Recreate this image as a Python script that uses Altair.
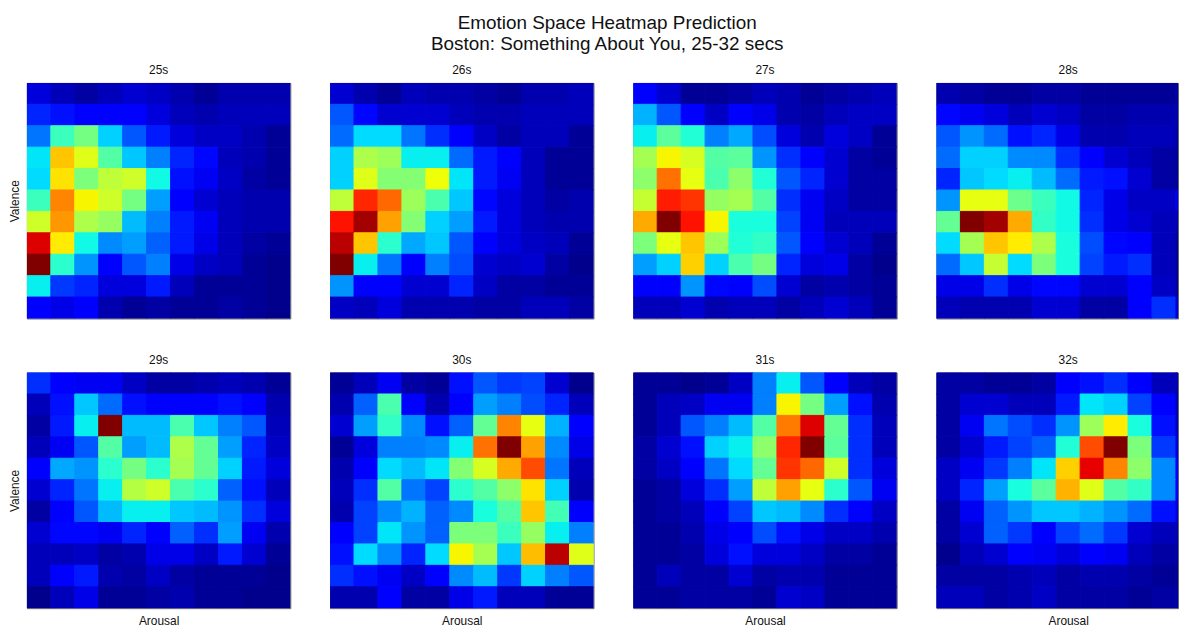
import altair as alt
import numpy as np
import pandas as pd

labels = ["25s", "26s", "27s", "28s", "29s", "30s", "31s", "32s"]

s25 = [
 [.08,.05,.03,.05,.07,.06,.04,.02,.04,.04,.04],
 [.16,.14,.12,.12,.12,.08,.05,.04,.05,.05,.05],
 [.24,.42,.49,.33,.21,.15,.08,.06,.06,.04,.02],
 [.35,.70,.62,.45,.32,.25,.16,.13,.05,.04,.02],
 [.34,.67,.50,.58,.60,.37,.14,.10,.06,.03,.02],
 [.42,.77,.65,.60,.49,.28,.12,.07,.05,.04,.04],
 [.60,.75,.56,.53,.31,.25,.15,.10,.05,.04,.04],
 [.92,.66,.37,.26,.28,.22,.15,.09,.05,.03,.02],
 [1.0,.40,.27,.12,.21,.25,.09,.06,.05,.02,.01],
 [.36,.18,.16,.08,.08,.15,.05,.02,.02,.02,.01],
 [.11,.09,.11,.04,.02,.03,.02,.02,.03,.02,.01],
]
s26 = [
 [.07,.04,.02,.05,.04,.04,.03,.02,.04,.04,.05],
 [.21,.13,.07,.07,.07,.05,.04,.04,.05,.05,.05],
 [.23,.34,.34,.24,.17,.12,.06,.03,.05,.05,.02],
 [.33,.56,.54,.36,.36,.23,.15,.11,.05,.02,.02],
 [.33,.62,.51,.51,.64,.35,.15,.10,.05,.02,.02],
 [.58,.87,.80,.54,.44,.32,.13,.08,.05,.03,.04],
 [.89,.97,.74,.51,.33,.28,.15,.08,.05,.04,.04],
 [.95,.70,.40,.29,.32,.21,.12,.08,.06,.05,.02],
 [1.0,.36,.24,.12,.25,.20,.07,.06,.07,.03,.01],
 [.27,.12,.12,.07,.07,.16,.06,.03,.03,.02,.02],
 [.06,.05,.08,.04,.04,.04,.03,.03,.05,.05,.03],
]
s27 = [
 [.11,.07,.02,.02,.03,.05,.04,.02,.03,.04,.05],
 [.30,.21,.11,.06,.11,.09,.04,.03,.05,.06,.06],
 [.36,.46,.39,.25,.29,.20,.08,.04,.08,.06,.02],
 [.55,.65,.61,.45,.46,.27,.17,.11,.07,.03,.02],
 [.52,.79,.63,.44,.52,.39,.21,.16,.07,.03,.03],
 [.59,.88,.855,.53,.55,.45,.17,.10,.06,.03,.03],
 [.73,1.0,.89,.65,.38,.38,.19,.10,.05,.05,.05],
 [.50,.63,.70,.54,.39,.41,.21,.11,.07,.05,.02],
 [.28,.33,.69,.33,.44,.49,.16,.08,.09,.03,.01],
 [.12,.12,.27,.13,.11,.20,.07,.03,.04,.03,.02],
 [.05,.05,.07,.04,.05,.05,.03,.05,.07,.05,.02],
]
s28 = [
 [.04,.03,.02,.02,.03,.03,.02,.02,.02,.02,.03],
 [.13,.10,.08,.05,.07,.06,.03,.03,.04,.04,.04],
 [.21,.27,.23,.14,.16,.09,.04,.04,.05,.05,.03],
 [.23,.33,.33,.26,.26,.17,.11,.07,.05,.03,.02],
 [.16,.32,.34,.36,.31,.23,.15,.14,.07,.03,.02],
 [.27,.63,.63,.48,.42,.37,.16,.09,.06,.06,.09],
 [.47,1.0,.97,.73,.41,.37,.17,.09,.07,.05,.04],
 [.34,.55,.70,.66,.56,.38,.20,.13,.11,.05,.02],
 [.23,.32,.59,.34,.50,.38,.19,.15,.17,.05,.02],
 [.09,.09,.17,.09,.13,.13,.07,.07,.11,.06,.02],
 [.05,.04,.04,.04,.07,.07,.03,.03,.12,.17,.07],
]
s29 = [
 [.17,.12,.10,.10,.06,.03,.03,.04,.05,.04,.02],
 [.05,.14,.32,.23,.14,.11,.11,.11,.14,.11,.04],
 [.03,.15,.36,1.0,.31,.31,.44,.32,.25,.21,.05],
 [.05,.10,.21,.45,.28,.31,.56,.47,.28,.16,.06],
 [.12,.29,.27,.40,.49,.40,.55,.47,.33,.15,.08],
 [.07,.16,.24,.36,.57,.60,.44,.40,.22,.14,.05],
 [.03,.11,.21,.31,.36,.36,.32,.31,.27,.17,.08],
 [.07,.13,.13,.10,.16,.12,.22,.17,.28,.10,.04],
 [.05,.05,.06,.03,.04,.09,.09,.06,.15,.07,.02],
 [.05,.11,.15,.04,.03,.06,.03,.02,.02,.02,.01],
 [.01,.05,.09,.02,.02,.03,.04,.02,.02,.01,.01],
]
s30 = [
 [.02,.05,.10,.03,.02,.14,.21,.18,.19,.07,.01],
 [.04,.22,.44,.11,.04,.11,.28,.25,.20,.16,.05],
 [.07,.28,.41,.26,.14,.22,.47,.77,.63,.30,.11],
 [.02,.08,.25,.25,.26,.36,.79,1.0,.74,.26,.09],
 [.04,.12,.34,.31,.35,.51,.61,.73,.83,.24,.05],
 [.05,.17,.45,.24,.19,.40,.45,.52,.67,.33,.04],
 [.04,.19,.26,.30,.22,.26,.38,.45,.70,.43,.11],
 [.11,.19,.35,.27,.22,.50,.50,.42,.53,.36,.25],
 [.14,.34,.26,.16,.34,.65,.55,.32,.71,.95,.62],
 [.17,.14,.10,.06,.12,.26,.31,.18,.33,.25,.21],
 [.04,.04,.12,.03,.03,.09,.15,.05,.05,.02,.02],
]
s31 = [
 [.02,.02,.01,.02,.06,.25,.36,.21,.11,.05,.03],
 [.02,.05,.06,.10,.10,.25,.65,.49,.28,.14,.04],
 [.02,.05,.21,.25,.31,.45,.78,.92,.47,.17,.05],
 [.03,.07,.14,.33,.36,.52,.87,1.0,.46,.17,.05],
 [.03,.06,.12,.24,.34,.47,.855,.80,.60,.17,.08],
 [.02,.03,.08,.17,.28,.58,.74,.63,.40,.21,.10],
 [.02,.03,.05,.12,.19,.32,.31,.26,.17,.11,.06],
 [.02,.02,.04,.09,.12,.20,.14,.09,.06,.06,.04],
 [.02,.02,.03,.08,.14,.08,.08,.06,.03,.03,.02],
 [.02,.05,.03,.03,.07,.03,.04,.04,.02,.02,.02],
 [.02,.02,.03,.03,.03,.02,.07,.06,.02,.02,.02],
]
s32 = [
 [.03,.03,.02,.02,.03,.11,.14,.17,.11,.05,.04],
 [.03,.07,.07,.05,.05,.15,.35,.33,.19,.11,.04],
 [.03,.10,.24,.20,.17,.27,.54,.66,.38,.14,.05],
 [.03,.07,.15,.19,.22,.39,.83,1.0,.50,.18,.08],
 [.06,.10,.18,.25,.35,.69,.91,.77,.52,.26,.12],
 [.06,.16,.28,.38,.46,.72,.62,.45,.41,.26,.12],
 [.03,.10,.22,.27,.32,.32,.30,.27,.23,.14,.07],
 [.03,.07,.22,.18,.11,.19,.23,.18,.07,.05,.04],
 [.01,.05,.07,.12,.10,.08,.11,.10,.05,.03,.03],
 [.03,.03,.03,.04,.05,.03,.04,.04,.03,.02,.02],
 [.05,.05,.03,.04,.06,.03,.03,.03,.02,.03,.03],
]
grids = [s25, s26, s27, s28, s29, s30, s31, s32]

# jet colour map as a piecewise-linear scale
stops = [0, .11, .125, .34, .35, .375, .64, .65, .66, .89, .91, 1]
r = np.interp(stops, [0, .35, .66, .89, 1], [0, 0, 1, 1, .5])
g = np.interp(stops, [0, .125, .375, .64, .91, 1], [0, 0, 1, 1, 0, 0])
b = np.interp(stops, [0, .11, .34, .65, 1], [.5, 1, 1, 0, 0])
jet = ["#%02x%02x%02x" % (round(a * 255), round(c * 255), round(d * 255)) for a, c, d in zip(r, g, b)]
colour = alt.Scale(domain=stops, range=jet, interpolate="rgb", clamp=True)

FONT = "Liberation Sans"
TXT = 12
N = 11
PANEL_W = 265
LAST_W = 243  # the reference cuts the fourth column off at the picture's edge


def panel(i):
    df = pd.DataFrame(
        [{"c0": c, "c1": c + 1, "r0": w, "r1": w + 1, "v": grids[i][w][c]} for w in range(N) for c in range(N)]
    )
    bottom = i >= 4
    left = i % 4 == 0
    last = i % 4 == 3
    w = LAST_W if last else PANEL_W
    shift = (PANEL_W - w) / 2
    return (
        alt.Chart(df, title=alt.TitleParams(labels[i], fontSize=TXT, font=FONT, fontWeight="normal", color="#111111", offset=6,
                                            frame="group", anchor="middle", dx=shift))
        .mark_rect(strokeWidth=1, clip=True)
        .encode(
            x=alt.X("c0:Q", scale=alt.Scale(domain=[0, N * w / PANEL_W], nice=False, zero=False),
                    axis=alt.Axis(labels=False, ticks=False, domain=False, grid=False, title="Arousal" if bottom else None,
                                  titleFont=FONT, titleFontSize=TXT, titleFontWeight="normal", titleColor="#111111", titlePadding=7,
                                  titleX=PANEL_W / 2)),
            x2="c1:Q",
            y=alt.Y("r0:Q", scale=alt.Scale(domain=[N, 0], nice=False, zero=False),
                    axis=alt.Axis(labels=False, ticks=False, domain=False, grid=False, title="Valence" if left else None,
                                  titleFont=FONT, titleFontSize=TXT, titleFontWeight="normal", titleColor="#111111", titlePadding=5.4)),
            y2="r1:Q",
            color=alt.Color("v:Q", scale=colour, legend=None),
            stroke=alt.Stroke("v:Q", scale=colour, legend=None),
        )
        .properties(width=w, height=237)
    )


chart = (
    alt.concat(*[panel(i) for i in range(8)], columns=4, spacing={"row": 33.4, "column": 38})
    .properties(
        title=alt.TitleParams(
            ["Emotion Space Heatmap Prediction", "Boston: Something About You, 25-32 secs"],
            fontSize=19, font=FONT, fontWeight="normal", color="#111111", anchor="middle", lineHeight=21, offset=10, dx=14,
        ),
        padding={"left": 0, "top": 3.5, "right": 0, "bottom": 0},
        background="white",
    )
    .configure_view(stroke="#666666", strokeWidth=1)
)

chart.save("out.html", embed_options={"renderer": "svg", "actions": False})
